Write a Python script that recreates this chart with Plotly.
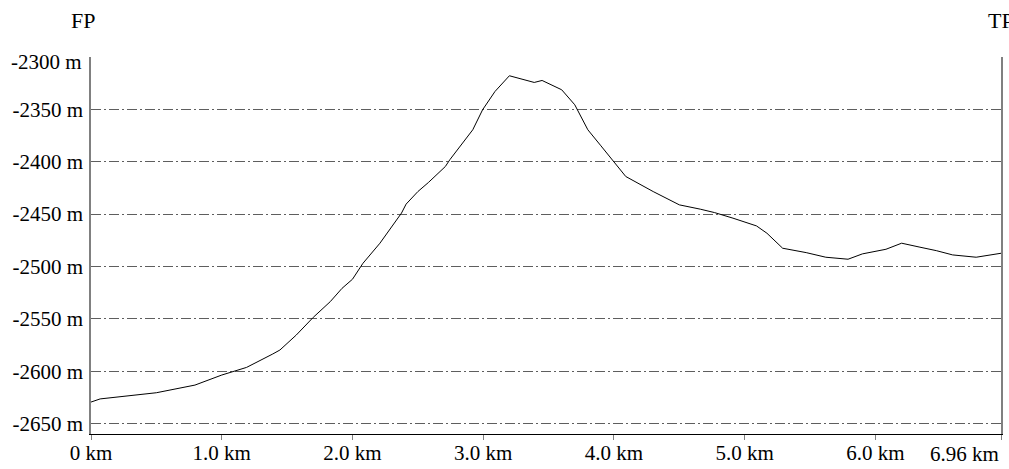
import plotly.graph_objects as go

distance_km = [0.0, 0.07, 0.5, 0.795, 1.0, 1.19, 1.39, 1.445, 1.57, 1.70, 1.83, 1.92, 2.0, 2.08,
               2.21, 2.30, 2.375, 2.41, 2.50, 2.58, 2.71, 2.745, 2.87, 2.92, 2.995, 3.09, 3.20,
               3.39, 3.45, 3.60, 3.70, 3.74, 3.80, 3.90, 3.99, 4.09, 4.30, 4.50, 4.66, 4.77,
               4.91, 5.09, 5.17, 5.29, 5.47, 5.62, 5.79, 5.90, 6.08, 6.20, 6.34, 6.465, 6.59,
               6.77, 6.96]
elevation_m = [-2629.5, -2626.5, -2620.6, -2613.3, -2603.7, -2596.4, -2583.6, -2579.8, -2565.5,
               -2548.6, -2533.6, -2520.9, -2512.2, -2497.0, -2477.8, -2461.9, -2449.0, -2440.5,
               -2428.5, -2419.9, -2404.6, -2398.0, -2377.4, -2369.5, -2350.4, -2332.9, -2317.9,
               -2324.3, -2322.4, -2331.3, -2345.6, -2355.2, -2369.5, -2384.8, -2398.2, -2414.1,
               -2428.5, -2441.2, -2445.3, -2448.6, -2453.9, -2461.3, -2468.3, -2482.6, -2486.8,
               -2491.2, -2493.1, -2488.0, -2483.6, -2477.8, -2481.6, -2484.9, -2489.0, -2491.2,
               -2487.4]

x_tickvals = [0, 1, 2, 3, 4, 5, 6, 6.96]
x_ticktext = ["0 km", "1.0 km", "2.0 km", "3.0 km", "4.0 km", "5.0 km", "6.0 km", "6.96 km"]
y_tickvals = [-2300, -2350, -2400, -2450, -2500, -2550, -2600, -2650]
y_ticktext = ["-2300 m", "-2350 m", "-2400 m", "-2450 m", "-2500 m", "-2550 m", "-2600 m", "-2650 m"]
start_label = "FP"
end_label = "TP"

FONT = "Liberation Serif, Times New Roman, Times, serif"
FS = 21
TXT = dict(family=FONT, size=FS, color="#000000")
HEAD = dict(family=FONT, size=22, color="#000000")

fig = go.Figure()
fig.add_trace(go.Scatter(x=distance_km, y=elevation_m, mode="lines",
                         line=dict(color="#000000", width=1), showlegend=False))

# last x label is right-aligned at the axis end, top y label sits a bit lower (annotations)
shown_xtext = x_ticktext[:-1] + [""]
shown_ytext = [""] + y_ticktext[1:]

fig.update_layout(
    width=1009, height=469,
    margin=dict(l=91, r=8, t=57, b=35, autoexpand=False),
    paper_bgcolor="white", plot_bgcolor="white",
    font=TXT,
    xaxis=dict(range=[0, 6.96], tickvals=x_tickvals, ticktext=shown_xtext,
               showgrid=False, zeroline=False, automargin=False,
               showline=True, linecolor="#000000", linewidth=1,
               ticks="outside", ticklen=5, tickcolor="#808080", tickwidth=1,
               ticklabelstandoff=-5, tickfont=TXT),
    yaxis=dict(range=[-2660, -2300], tickvals=y_tickvals, ticktext=shown_ytext,
               showgrid=True, gridcolor="#5e5e5e", gridwidth=1, griddash="10px,3px,2px,3px",
               zeroline=False, showline=True, mirror=True, linecolor="#808080", linewidth=1.5,
               ticks="", ticklabelstandoff=2, automargin=False, tickfont=TXT),
    annotations=[
        dict(text=start_label, xref="paper", yref="paper", x=0, y=1, xanchor="center", yanchor="bottom",
             xshift=-8, yshift=22, showarrow=False, font=HEAD),
        dict(text=end_label, xref="paper", yref="paper", x=1, y=1, xanchor="center", yanchor="bottom",
             xshift=0, yshift=22, showarrow=False, font=HEAD),
        dict(text=x_ticktext[-1], xref="x", yref="paper", x=x_tickvals[-1], y=0,
             xanchor="right", yanchor="top", yshift=-6, showarrow=False, font=TXT),
        dict(text=y_ticktext[0], xref="paper", yref="y", x=0, y=y_tickvals[0],
             xanchor="right", yanchor="middle", xshift=-7, yshift=-5, showarrow=False, font=TXT),
    ],
)

fig.write_html("out.html", config={"displayModeBar": False},
               post_script="document.body.style.margin='0';document.body.style.overflow='hidden';")
